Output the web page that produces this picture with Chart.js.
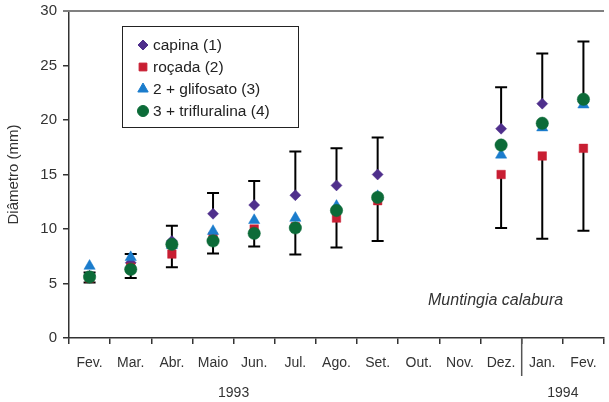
<!DOCTYPE html>
<html>
<head>
<meta charset="utf-8">
<script src="https://cdn.jsdelivr.net/npm/chart.js@4.4.1/dist/chart.umd.min.js"></script>
<style>
  html, body { margin: 0; padding: 0; background: #fff; overflow: hidden; }
  #wrap { position: relative; width: 611px; height: 402px; }
</style>
</head>
<body>
<div id="wrap"><canvas id="c"></canvas></div>
<script>
const months = ['Fev.','Mar.','Abr.','Maio','Jun.','Jul.','Ago.','Set.','Out.','Nov.','Dez.','Jan.','Fev.'];
const capina       = [5.7, 6.9, 8.9, 11.4, 12.2, 13.1, 14.0, 15.0, null, null, 19.2, 21.5, 21.7];
const rocada       = [5.5, 6.5, 7.7,  9.3, 10.0, 10.2, 11.0, 12.6, null, null, 15.0, 16.7, 17.4];
const glifosato    = [6.6, 7.4, 8.5,  9.8, 10.8, 11.0, 12.1, 13.0, null, null, 16.8, 19.3, 21.4];
const trifluralina = [5.6, 6.3, 8.6,  8.9,  9.6, 10.1, 11.7, 12.9, null, null, 17.7, 19.7, 21.9];
const errTop       = [6.0, 7.7, 10.3, 13.3, 14.4, 17.1, 17.4, 18.4, null, null, 23.0, 26.1, 27.2];
const errBottom    = [5.1, 5.5, 6.5,  7.75, 8.4, 7.65, 8.3,  8.9, null, null, 10.1, 9.1, 9.85];
const seriesNames  = ['capina (1)', 'roçada (2)', '2 + glifosato (3)', '3 + trifluralina (4)'];
const yTicks       = [0, 5, 10, 15, 20, 25, 30];
const years        = ['1993', '1994'];
const speciesLabel = 'Muntingia calabura';
const yTitle       = 'Diâmetro (mm)';

const FONT = "'Liberation Sans', Arial, sans-serif";
const TXT = '#333333';
const AX = '#333333';
const COLORS = ['#4f2f8c', '#c81e32', '#1b7ccc', '#0c6b38'];
const STYLES = ['rectRot', 'rect', 'triangle', 'circle'];
const RADII = [5.5, 6, 6.5, 6.2];

const overlay = {
  id: 'overlay',
  beforeDatasetsDraw(chart) {
    const ctx = chart.ctx, x = chart.scales.x, y = chart.scales.y;
    ctx.save();
    ctx.strokeStyle = '#000';
    ctx.lineWidth = 2;
    const cap = 6;
    for (let i = 0; i < months.length; i++) {
      const px = x.getPixelForValue(i);
      if (capina[i] != null && errTop[i] != null) {
        const y0 = y.getPixelForValue(capina[i]), y1 = y.getPixelForValue(errTop[i]);
        ctx.beginPath(); ctx.moveTo(px, y0); ctx.lineTo(px, y1);
        ctx.moveTo(px - cap, y1); ctx.lineTo(px + cap, y1); ctx.stroke();
      }
      if (rocada[i] != null && errBottom[i] != null) {
        const y0 = y.getPixelForValue(rocada[i]), y1 = y.getPixelForValue(errBottom[i]);
        ctx.beginPath(); ctx.moveTo(px, y0); ctx.lineTo(px, y1);
        ctx.moveTo(px - cap, y1); ctx.lineTo(px + cap, y1); ctx.stroke();
      }
    }
    ctx.restore();
  },
  afterDraw(chart) {
    const ctx = chart.ctx, x = chart.scales.x, y = chart.scales.y, a = chart.chartArea;
    ctx.save();
    // top border
    ctx.strokeStyle = '#808080'; ctx.lineWidth = 2;
    ctx.beginPath(); ctx.moveTo(a.left - 6, a.top); ctx.lineTo(a.right, a.top); ctx.stroke();
    // separator between years
    const sepX = (x.getPixelForValue(10) + x.getPixelForValue(11)) / 2;
    ctx.strokeStyle = '#555'; ctx.lineWidth = 1.5;
    ctx.beginPath(); ctx.moveTo(sepX, a.bottom); ctx.lineTo(sepX, a.bottom + 38); ctx.stroke();
    // years
    ctx.fillStyle = TXT; ctx.font = '14px ' + FONT; ctx.textAlign = 'center'; ctx.textBaseline = 'middle';
    ctx.fillText(years[0], (x.getPixelForValue(3) + x.getPixelForValue(4)) / 2, 393);
    ctx.fillText(years[1], (x.getPixelForValue(11) + x.getPixelForValue(12)) / 2, 393);
    // species
    ctx.font = 'italic 16px ' + FONT; ctx.textAlign = 'left';
    ctx.fillText(speciesLabel, 428, 301);
    // legend
    ctx.strokeStyle = '#222'; ctx.lineWidth = 1;
    ctx.strokeRect(122.5, 26.5, 176, 101);
    ctx.font = '15.5px ' + FONT;
    const legR = [5, 5.5, 6, 5.5];
    for (let k = 0; k < 4; k++) {
      const ly = 45 + k * 22;
      ctx.save();
      ctx.fillStyle = COLORS[k]; ctx.strokeStyle = COLORS[k];
      Chart.helpers.drawPoint(ctx, { pointStyle: STYLES[k], radius: legR[k], borderWidth: 0.5 }, 143, ly);
      ctx.restore();
      ctx.fillStyle = '#222';
      ctx.fillText(seriesNames[k], 153, ly + 1);
    }
    ctx.restore();
  }
};

const series = [capina, rocada, glifosato, trifluralina];
const datasets = series.map((d, k) => ({
  label: seriesNames[k],
  data: d,
  showLine: false,
  pointStyle: STYLES[k],
  pointRadius: RADII[k],
  pointHoverRadius: RADII[k],
  pointBackgroundColor: COLORS[k],
  pointBorderColor: COLORS[k],
  pointBorderWidth: 0.5,
  order: 4 - k
}));

new Chart(document.getElementById('c'), {
  type: 'line',
  data: { labels: months, datasets },
  options: {
    responsive: true,
    maintainAspectRatio: false,
    animation: false,
    events: [],
    layout: { padding: { top: 11, right: 0, left: 0, bottom: 0 } },
    plugins: { legend: { display: false }, tooltip: { enabled: false } },
    scales: {
      x: {
        offset: true,
        grid: { offset: true, drawOnChartArea: false, drawTicks: true, tickLength: 6, color: AX, lineWidth: 1.5 },
        border: { color: AX, width: 1.5 },
        ticks: { color: TXT, font: { family: FONT, size: 14 }, padding: 11, maxRotation: 0, autoSkip: false },
        afterFit(s) { s.height = 64; s.paddingLeft = 0; s.paddingRight = 0; }
      },
      y: {
        min: 0, max: 30,
        afterBuildTicks(s) { s.ticks = yTicks.map(v => ({ value: v })); },
        grid: { drawOnChartArea: false, drawTicks: true, tickLength: 6, color: AX, lineWidth: 1.5 },
        border: { color: AX, width: 1.5 },
        ticks: { color: TXT, font: { family: FONT, size: 15 }, padding: 6 },
        title: { display: true, text: yTitle, color: TXT, font: { family: FONT, size: 15 }, padding: { top: 5, bottom: 0 } },
        afterFit(s) { s.width = 69; s.paddingTop = 0; s.paddingBottom = 0; }
      }
    }
  },
  plugins: [overlay]
});
</script>
</body>
</html>
